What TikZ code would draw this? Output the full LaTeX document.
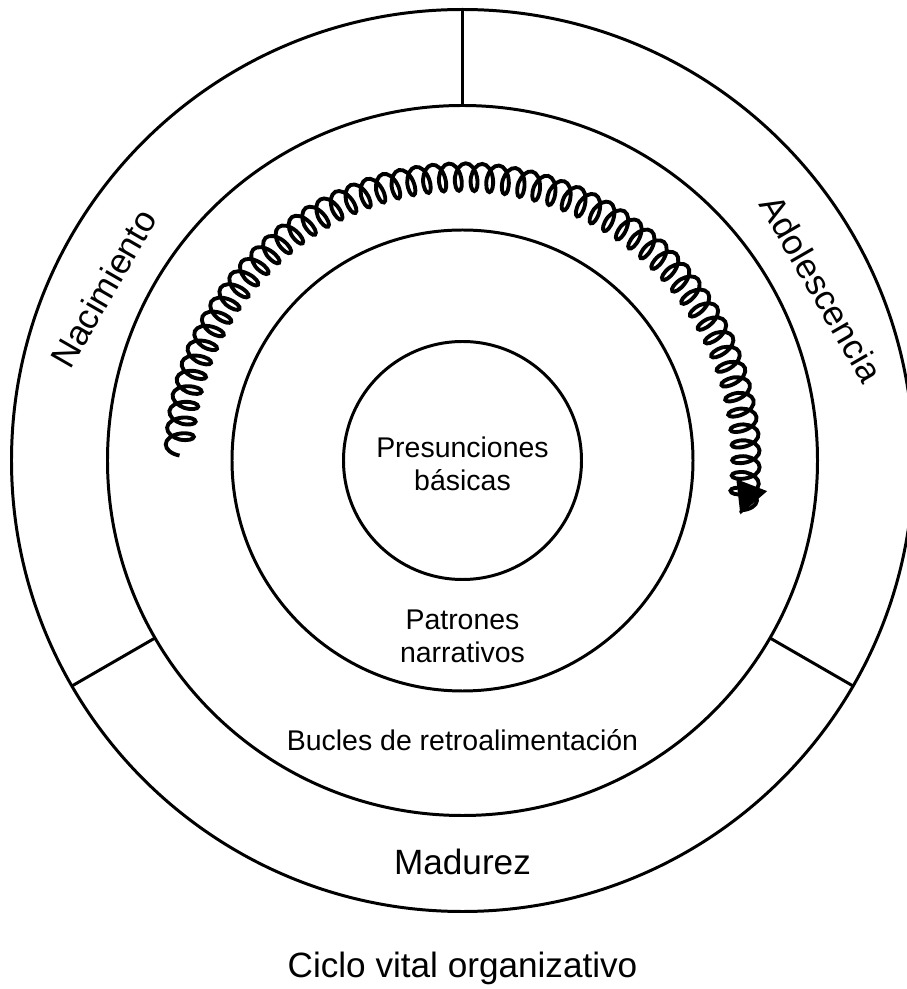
\documentclass[tikz,border=0pt]{standalone}
\usepackage{fontspec}
\setmainfont{Liberation Sans}
\usetikzlibrary{decorations.pathmorphing,arrows.meta}

\begin{document}
\begin{tikzpicture}[line width=1.7pt,
    small/.style={font=\fontsize{16.2}{18.8}\selectfont, align=center},
    big/.style={font=\fontsize{20}{24}\selectfont},
    spring/.style={line width=2.2pt, decorate,
      decoration={coil, amplitude=0.28cm, segment length=0.32cm, aspect=0.5},
      -{Triangle[length=6.3mm,width=6.4mm]}}]
   \useasboundingbox (-9.25,-10.57) rectangle (8.89,9.21);

   % rings
   \draw (0,0) circle (9.02);
   \draw (0,0) circle (7.10);
   \draw (0,0) circle (4.61);
   \draw (0,0) circle (2.38);

   % stage borders
   \foreach \a in {90,210,330}
     \draw (\a:7.10) -- (\a:9.02);

   % the spiral
   \coordinate (s0) at (179:5.66);
   \draw[spring] (s0) arc[start angle=179, end angle=-11, radius=5.66];

   \node[small] (core) at (0,-0.06) {Presunciones\\básicas};
   \node[small] (pat) at (0,-3.51) {Patrones\\narrativos};
   \node[small] (loop) at (0,-5.59) {Bucles de retroalimentación};
   \node[big, rotate=60] (birth) at (154.4:7.96) {Nacimiento};
   \node[big, rotate=-60] (teen) at (25.6:7.96) {Adolescencia};
   \node[big] (adult) at (0,-8.03) {Madurez};
   \node[big] (title) at (0,-10.15) {Ciclo vital organizativo};
\end{tikzpicture}
\end{document}
